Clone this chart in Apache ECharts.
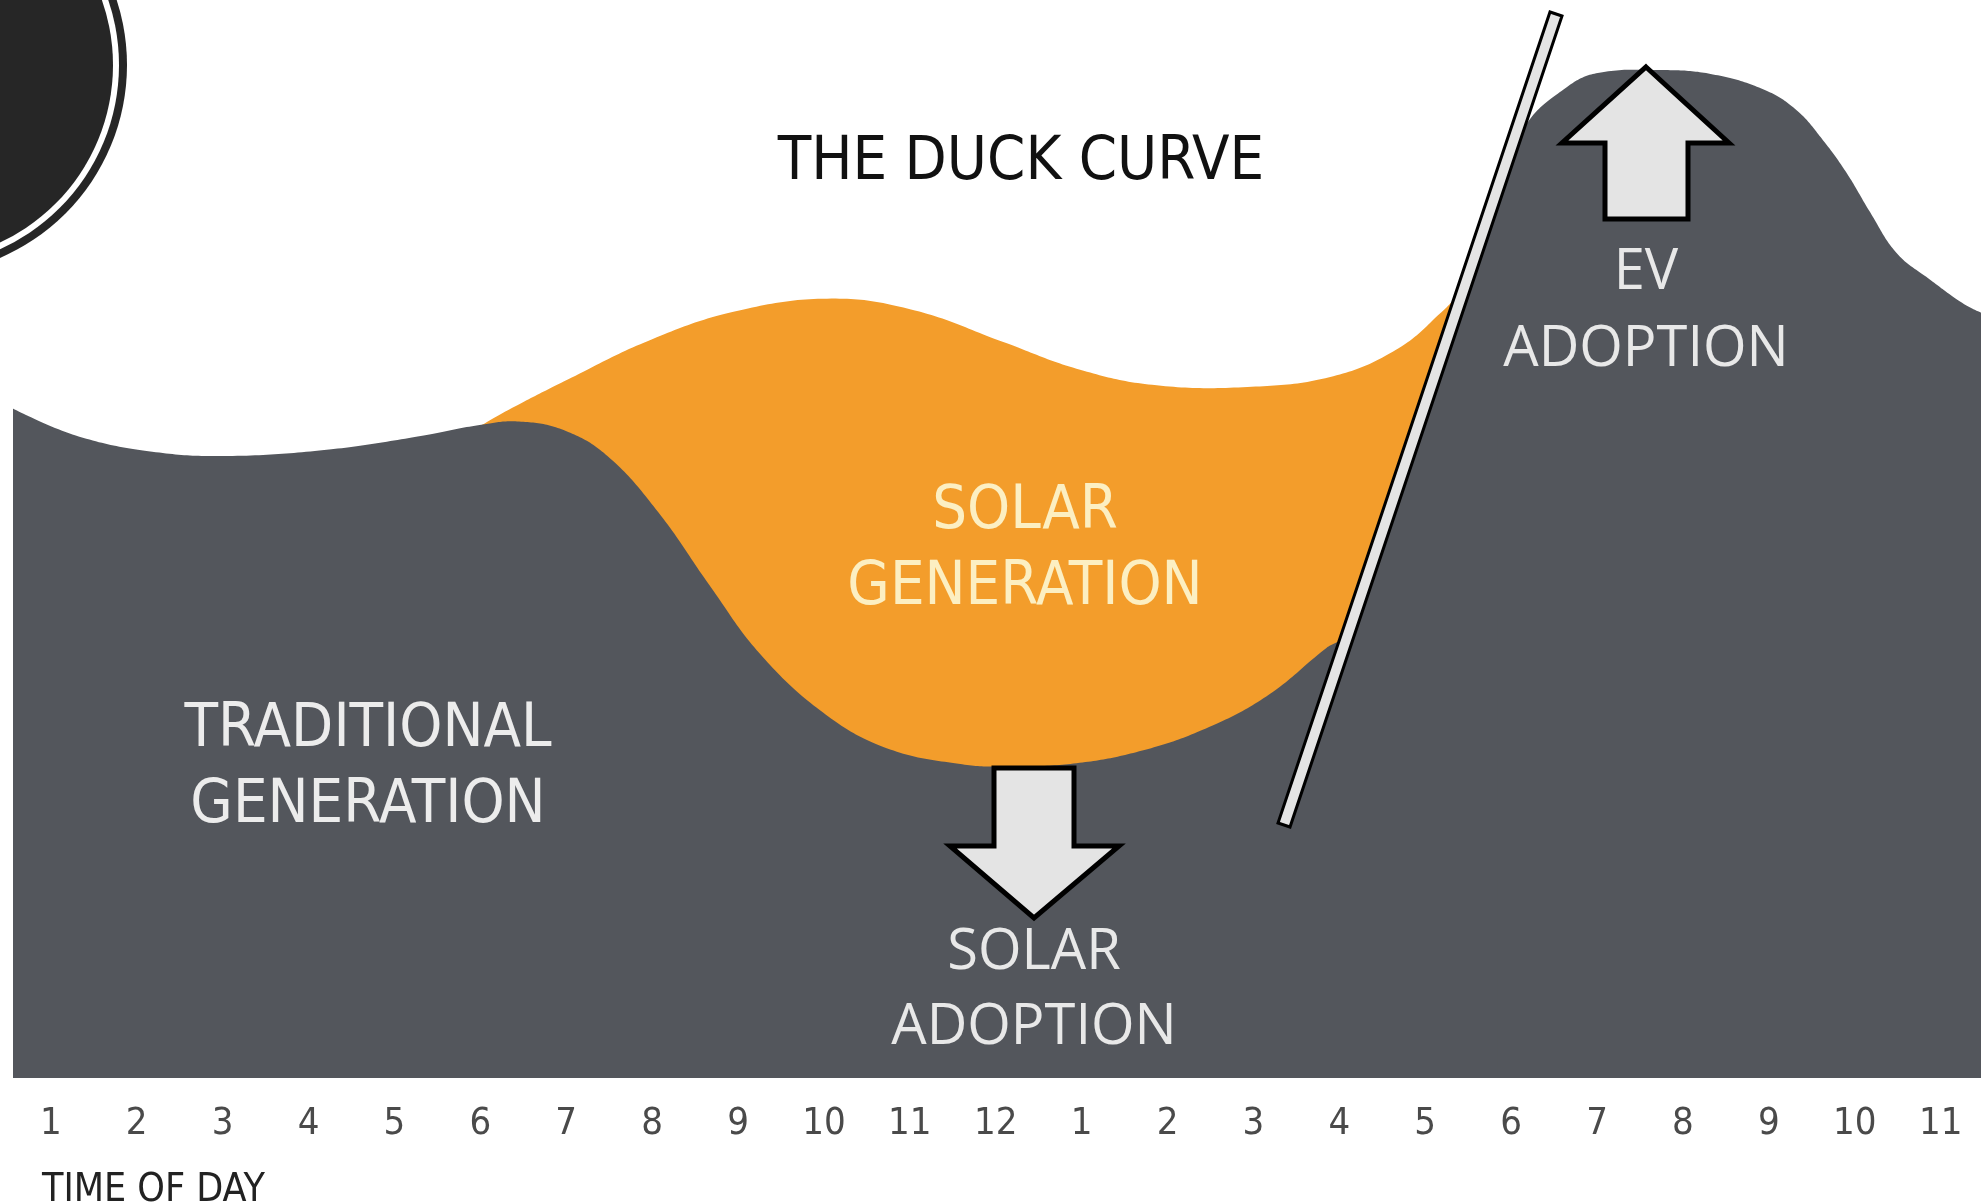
<!DOCTYPE html>
<html>
<head>
<meta charset="utf-8">
<script src="https://cdn.jsdelivr.net/npm/echarts@6/dist/echarts.min.js"></script>
<style>
html,body{margin:0;padding:0;background:#ffffff;}
#chart{width:1985px;height:1204px;}
</style>
</head>
<body>
<div id="chart"></div>
<script>
// ---- x axis: hour positions (1 = 1 AM ... 12 = noon ... 23 = 11 PM) ----
const tickHours  = [1,2,3,4,5,6,7,8,9,10,11,12,13,14,15,16,17,18,19,20,21,22,23];
const tickLabels = ['1','2','3','4','5','6','7','8','9','10','11','12','1','2','3','4','5','6','7','8','9','10','11'];

// ---- traditional generation (grey area top, up to the divider), demand in % of chart height ----
const tradHours  = [0.56,1.29,2.18,3.06,4.24,5.27,6.01,6.45,6.97,7.48,8.07,8.66,9.25,9.99,10.73,11.61,12.20,12.94,13.67,14.41,15.15,15.85,16.10,17.09,18.08];
const tradValues = [62.1,59.6,58.1,57.7,58.3,59.5,60.6,60.9,60.1,57.7,52.5,45.8,39.4,33.9,30.6,29.1,28.9,29.2,30.3,32.3,35.4,39.9,41.3,64.8,88.3];

// ---- evening demand with EV adoption (grey area right of the divider) ----
const evHours  = [17.84,18.18,18.61,18.99,19.77,20.35,20.94,21.32,21.63,21.91,22.18,22.49,22.87,23.27,23.47];
const evValues = [82.4,88.5,91.7,93.2,93.5,93.1,91.7,89.8,87.0,83.9,80.3,76.5,74.1,71.8,71.0];

// ---- total demand incl. solar generation (orange area top) ----
const totalHours  = [5.94,6.31,6.97,7.96,8.96,10.09,11.06,12.08,12.94,13.82,14.93,15.93,16.69,17.21,17.40];
const totalValues = [60.2,61.9,64.6,68.4,71.1,72.3,71.2,68.3,65.8,64.3,64.1,65.1,67.7,71.2,72.8];

const zip = (xs, ys) => xs.map((x, i) => [x, ys[i]]);

const GREY = '#53565c';
const ORANGE = '#f39d2b';
const DIN = '"Liberation Sans Narrow", "DejaVu Sans Condensed", sans-serif';
const HUM = '"Open Sans", "Noto Sans", sans-serif';
const SMOOTH = 0.4;

// smooth curve through pixel points (same scheme as ECharts' line smoothing, without clamping)
function splinePoints(pts) {
  const n = pts.length;
  const dist = (a, b) => Math.hypot(b[0] - a[0], b[1] - a[1]);
  const cpNext = [], cpPrev = [];
  for (let i = 0; i < n; i++) {
    if (i === 0 || i === n - 1) { cpNext[i] = pts[i]; cpPrev[i] = pts[i]; continue; }
    const A = pts[i - 1], P = pts[i], B = pts[i + 1];
    const dA = dist(A, P), dB = dist(P, B);
    const vx = B[0] - A[0], vy = B[1] - A[1];
    const rN = dB / (dA + dB);
    cpNext[i] = [P[0] + vx * SMOOTH * rN, P[1] + vy * SMOOTH * rN];
    cpPrev[i] = [P[0] - vx * SMOOTH * (1 - rN), P[1] - vy * SMOOTH * (1 - rN)];
  }
  const out = [pts[0]];
  for (let i = 0; i < n - 1; i++) {
    const p0 = pts[i], c1 = cpNext[i], c2 = cpPrev[i + 1], p1 = pts[i + 1];
    for (let k = 1; k <= 24; k++) {
      const t = k / 24, u = 1 - t;
      const a = u * u * u, b = 3 * u * u * t, c = 3 * u * t * t, d = t * t * t;
      out.push([a * p0[0] + b * c1[0] + c * c2[0] + d * p1[0],
                a * p0[1] + b * c1[1] + c * c2[1] + d * p1[1]]);
    }
  }
  return out;
}

function areaSeries(name, xs, ys, color, z) {
  return {
    name: name, type: 'custom', coordinateSystem: 'cartesian2d', z: z, silent: true,
    data: zip(xs, ys), encode: {x: 0, y: 1},
    renderItem: function (params, api) {
      if (params.dataIndex !== 0) return null;
      const pts = xs.map((x, i) => api.coord([x, ys[i]]));
      const base = api.coord([xs[0], 0])[1];
      const poly = [[pts[0][0], base]].concat(splinePoints(pts), [[pts[pts.length - 1][0], base]]);
      return {type: 'polygon', shape: {points: poly}, style: {fill: color}};
    }
  };
}

const chart = echarts.init(document.getElementById('chart'), null, {renderer: 'canvas'});

function txt(text, x, y, font, fill, align) {
  return {
    type: 'text', x: x, y: y, z: 100, silent: true,
    style: {text: text, font: font, fill: fill, align: align || 'center', verticalAlign: 'middle'}
  };
}

const option = {
  backgroundColor: '#ffffff',
  animation: false,
  grid: {left: 13, right: 4, top: 0, bottom: 126},
  xAxis: {
    type: 'value', min: 0.56, max: 23.47,
    axisLine: {show: false}, axisTick: {show: false}, splitLine: {show: false},
    axisLabel: {
      customValues: tickHours,
      formatter: v => tickLabels[tickHours.indexOf(Math.round(v))],
      fontFamily: DIN, fontSize: 38, color: '#4a4a4a',
      verticalAlign: 'middle', margin: 46
    }
  },
  yAxis: {type: 'value', min: 0, max: 100, show: false, splitLine: {show: false}},
  series: [
    areaSeries('Solar generation', totalHours, totalValues, ORANGE, 2),
    areaSeries('Traditional generation', tradHours, tradValues, GREY, 3),
    areaSeries('EV adoption', evHours, evValues, GREY, 4)
  ],
  graphic: [
    // decorative badge top-left
    {type: 'circle', z: 100, silent: true, shape: {cx: -83, cy: 65, r: 210}, style: {fill: '#262626'}},
    {type: 'circle', z: 101, silent: true, shape: {cx: -83, cy: 65, r: 202}, style: {fill: '#ffffff'}},
    {type: 'circle', z: 102, silent: true, shape: {cx: -83, cy: 65, r: 196}, style: {fill: '#262626'}},
    // title
    txt('THE DUCK CURVE', 1021, 163, 'normal 61px ' + DIN, '#111111'),
    // area labels
    txt('TRADITIONAL', 368, 730, 'normal 61px ' + DIN, '#ececec'),
    txt('GENERATION', 368, 806, 'normal 61px ' + DIN, '#ececec'),
    txt('SOLAR', 1025, 512, 'normal 61px ' + DIN, '#fcefc2'),
    txt('GENERATION', 1025, 588, 'normal 61px ' + DIN, '#fcefc2'),
    txt('TIME OF DAY', 42, 1191, 'normal 39px ' + DIN, '#222222', 'left'),
    // slanted divider bar
    {type: 'polygon', z: 110, silent: true,
     shape: {points: [[1562, 16], [1550, 12], [1278, 823], [1290, 827]]},
     style: {fill: '#e4e4e4', stroke: '#000000', lineWidth: 3, lineJoin: 'miter'}},
    // up arrow (EV adoption)
    {type: 'polygon', z: 110, silent: true,
     shape: {points: [[1646, 67], [1729, 143], [1688, 143], [1688, 219], [1605, 219], [1605, 143], [1562, 143]]},
     style: {fill: '#e4e4e4', stroke: '#000000', lineWidth: 5, lineJoin: 'miter'}},
    // down arrow (solar adoption)
    {type: 'polygon', z: 110, silent: true,
     shape: {points: [[994, 768], [1074, 768], [1074, 846], [1119, 846], [1034, 918], [950, 846], [994, 846]]},
     style: {fill: '#e4e4e4', stroke: '#000000', lineWidth: 5, lineJoin: 'miter'}},
    txt('EV', 1646, 273, 'normal 56px ' + HUM, '#e8e8e8'),
    txt('ADOPTION', 1646, 350, 'normal 56px ' + HUM, '#e8e8e8'),
    txt('SOLAR', 1034, 953, 'normal 56px ' + HUM, '#e8e8e8'),
    txt('ADOPTION', 1034, 1028, 'normal 56px ' + HUM, '#e8e8e8')
  ]
};
chart.setOption(option);
</script>
</body>
</html>
